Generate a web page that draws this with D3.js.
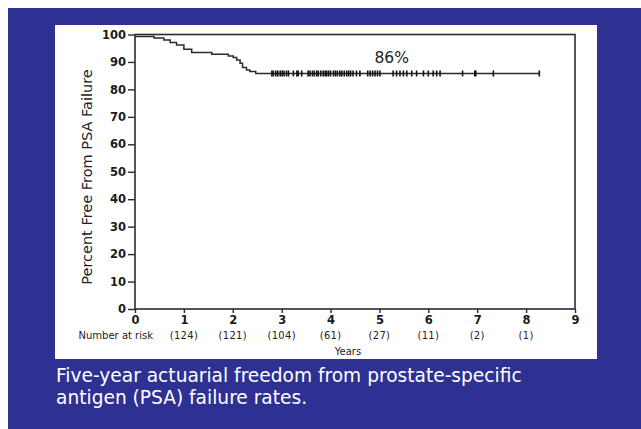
<!DOCTYPE html>
<html>
<head>
<meta charset="utf-8">
<script src="https://cdn.jsdelivr.net/npm/d3@7"></script>
<style>
  body { margin: 0; background: #fff; }
</style>
</head>
<body>
<script>
// Kaplan-Meier steps (years, percent free)
var stepTimes = [0, 0.39, 0.59, 0.72, 0.85, 1.0, 1.16, 1.57, 1.91, 2.01, 2.08, 2.15, 2.2, 2.28, 2.35, 2.47, 8.27];
var stepValues = [99.3, 98.7, 98.0, 97.1, 96.2, 94.6, 93.4, 92.8, 92.2, 91.6, 90.7, 89.5, 88.0, 87.1, 86.5, 85.8, 85.8];

// censored patients (years)
var censorTimes = [2.80, 2.83, 2.88, 2.92, 2.97, 3.01, 3.05, 3.10, 3.14, 3.24, 3.31, 3.34, 3.41,
  3.54, 3.58, 3.63, 3.67, 3.72, 3.75, 3.80, 3.85, 3.89, 3.92, 3.96, 4.00, 4.06, 4.10, 4.14,
  4.19, 4.23, 4.28, 4.33, 4.37, 4.41, 4.46, 4.53, 4.60, 4.76, 4.81, 4.86, 4.91, 4.96, 5.01,
  5.28, 5.35, 5.42, 5.49, 5.56, 5.66, 5.76, 5.90, 6.00, 6.10, 6.17, 6.24,
  6.70, 6.95, 6.97, 7.33, 8.27];

var xTicks = [0, 1, 2, 3, 4, 5, 6, 7, 8, 9];
var yTicks = [0, 10, 20, 30, 40, 50, 60, 70, 80, 90, 100];
var riskYears = [1, 2, 3, 4, 5, 6, 7, 8];
var riskCounts = ["(124)", "(121)", "(104)", "(61)", "(27)", "(11)", "(2)", "(1)"];
var finalLabel = "86%";
var caption = ["Five-year actuarial freedom from prostate-specific", "antigen (PSA) failure rates."];

var W = 641, H = 429;
var ink = "#2b2b2b";
var font = "'DejaVu Sans', sans-serif";

var svg = d3.select("body").append("svg")
  .attr("width", W)
  .attr("height", H);

// blue frame and white panel
svg.append("rect").attr("x", 8).attr("y", 8).attr("width", W - 8).attr("height", H - 8)
  .attr("fill", "#2e3192");
svg.append("rect").attr("x", 55).attr("y", 25).attr("width", 542).attr("height", 334)
  .attr("fill", "#fff");

var x = d3.scaleLinear().domain([0, 9]).range([135, 575]);
var y = d3.scaleLinear().domain([0, 100]).range([309, 34.5]);

// plot box
svg.append("rect")
  .attr("x", x(0)).attr("y", y(100))
  .attr("width", x(9) - x(0)).attr("height", y(0) - y(100))
  .attr("fill", "none").attr("stroke", ink).attr("stroke-width", 1.6);

// axes
var yAxis = svg.append("g")
  .attr("transform", "translate(" + x(0) + ",0)")
  .call(d3.axisLeft(y).tickValues(yTicks).tickSize(7).tickPadding(2));
var xAxis = svg.append("g")
  .attr("transform", "translate(0," + y(0) + ")")
  .call(d3.axisBottom(x).tickValues(xTicks).tickSize(4).tickPadding(3));

[yAxis, xAxis].forEach(function(g) {
  g.select(".domain").remove();
  g.selectAll("line").attr("stroke", ink).attr("stroke-width", 1.4);
  g.selectAll("text")
    .attr("fill", "#1a1a1a")
    .style("font-family", font)
    .style("font-size", "11.5px")
    .style("font-weight", "bold");
});

// survival curve
var line = d3.line()
  .x(function(d) { return x(d[0]); })
  .y(function(d) { return y(d[1]); })
  .curve(d3.curveStepAfter);

svg.append("path")
  .datum(stepTimes.map(function(t, i) { return [t, stepValues[i]]; }))
  .attr("d", line)
  .attr("fill", "none")
  .attr("stroke", ink)
  .attr("stroke-width", 1.5);

// censor marks
var finalValue = stepValues[stepValues.length - 1];
svg.selectAll(".censor")
  .data(censorTimes)
  .enter().append("line")
  .attr("class", "censor")
  .attr("x1", function(d) { return x(d); })
  .attr("x2", function(d) { return x(d); })
  .attr("y1", y(finalValue) - 3)
  .attr("y2", y(finalValue) + 3)
  .attr("stroke", "#111")
  .attr("stroke-width", 1.6);

// 86% label
svg.append("text")
  .attr("x", x(5.25)).attr("y", 63)
  .attr("text-anchor", "middle")
  .style("font-family", font)
  .style("font-size", "15.5px")
  .attr("fill", "#222")
  .text(finalLabel);

// y label
svg.append("text")
  .attr("transform", "translate(92,177) rotate(-90)")
  .attr("text-anchor", "middle")
  .style("font-family", font)
  .style("font-size", "14.5px")
  .attr("fill", "#222")
  .text("Percent Free From PSA Failure");

// number at risk
svg.append("text")
  .attr("x", 153).attr("y", 339)
  .attr("text-anchor", "end")
  .style("font-family", font)
  .style("font-size", "10px")
  .attr("fill", "#222")
  .text("Number at risk");

svg.selectAll(".risk")
  .data(riskYears)
  .enter().append("text")
  .attr("class", "risk")
  .attr("x", function(d) { return x(d); })
  .attr("y", 339)
  .attr("text-anchor", "middle")
  .style("font-family", font)
  .style("font-size", "10px")
  .style("letter-spacing", "0.3px")
  .attr("fill", "#222")
  .text(function(d, i) { return riskCounts[i]; });

svg.append("text")
  .attr("x", 348).attr("y", 355)
  .attr("text-anchor", "middle")
  .style("font-family", font)
  .style("font-size", "10px")
  .attr("fill", "#222")
  .text("Years");

// caption
svg.selectAll(".caption")
  .data(caption)
  .enter().append("text")
  .attr("class", "caption")
  .attr("x", 56)
  .attr("y", function(d, i) { return 382 + i * 22; })
  .style("font-family", font)
  .style("font-size", "18.6px")
  .attr("fill", "#fff")
  .text(function(d) { return d; });
</script>
</body>
</html>
